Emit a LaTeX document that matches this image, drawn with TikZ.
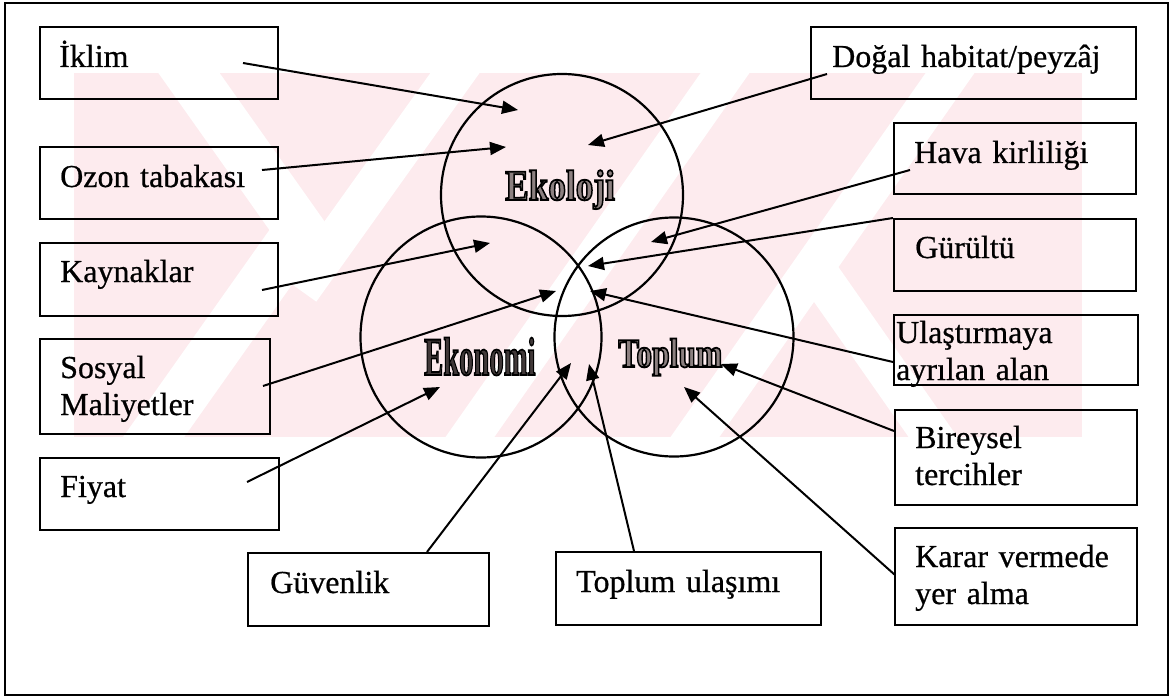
\documentclass[tikz,border=0pt]{standalone}
\usepackage{fontspec}
\setmainfont{Liberation Serif}
\newfontfamily\boxfont{Liberation Serif}[FakeBold=0.6]
\usetikzlibrary{arrows.meta}
\definecolor{wmpink}{RGB}{253,235,238}
% outlined text: #1 fill colour as "r g b", #2 text
\newcommand\outlinedtext[2]{\special{pdf:literal direct 2 Tr 1.8 w 0 0 0 RG #1 rg}#2\special{pdf:literal direct 0 Tr 0 0 0 RG 0 0 0 rg}}
\begin{document}
\begin{tikzpicture}[x=1pt,y=-1pt,
  box/.style={draw,line width=2pt,inner sep=0pt,anchor=north west},
  lbl/.style={anchor=base west,inner sep=0pt,text width=230pt,align=left,
    font=\boxfont\fontsize{32}{37}\selectfont},
  word/.style={anchor=base west,inner sep=0pt},
  ring/.style={draw,line width=2.2pt},
  arr/.style={line width=2pt,-{Triangle[length=16pt,width=13pt]}}]
\useasboundingbox (0,0) rectangle (1173,698);
\fill[white] (0,0) rectangle (1173,698);
% watermark
\begin{scope}
  \clip (74,73) rectangle (1082,437);
  \fill[wmpink] (74,73) rectangle (1082,437);
  \draw[white,line width=50pt,line join=miter,miter limit=10]
      (90,-67) -- (300,230) -- (90,527);
  \draw[white,line width=40pt] (300,290) -- (500,10);
  \foreach \x in {470,695}
    \draw[white,line width=40pt] ({\x-40},494) -- ({\x+295},16);
  \draw[white,line width=40pt] (814,267) -- (968,487);
\end{scope}
% outer frame
\draw[line width=2.5pt] (5,3) rectangle (1168,695);
% circles
\node[ring,circle,minimum size=242pt,inner sep=0pt] (ecol) at (562,195) {};
\node[ring,circle,minimum size=241pt,inner sep=0pt] (econ) at (481,337) {};
\node[ring,circle,minimum size=239pt,inner sep=0pt] (topl) at (674,337) {};
% boxes
\node[box,minimum width=238pt,minimum height=72pt] (iklim) at (39,26) {};
\node[box,minimum width=238pt,minimum height=72pt] (ozon) at (39,146) {};
\node[box,minimum width=238pt,minimum height=73pt] (kaynak) at (39,242) {};
\node[box,minimum width=230pt,minimum height=95pt] (sosyal) at (39,338) {};
\node[box,minimum width=239pt,minimum height=72pt] (fiyat) at (39,457) {};
\node[box,minimum width=241pt,minimum height=73pt] (guven) at (247,552) {};
\node[box,minimum width=265pt,minimum height=73pt] (tulas) at (555,551) {};
\node[box,minimum width=242pt,minimum height=97pt] (karar) at (894,527) {};
\node[box,minimum width=242pt,minimum height=95pt] (birey) at (894,409) {};
\node[box,minimum width=244pt,minimum height=70pt] (ulas) at (893,314) {};
\node[box,minimum width=242pt,minimum height=72pt] (gurul) at (893,218) {};
\node[box,minimum width=242pt,minimum height=71pt] (hava) at (893,122) {};
\node[box,minimum width=325pt,minimum height=72pt] (dogal) at (810,26) {};
% box texts
\node[lbl] (t-iklim) at ([shift={(20,41)}]iklim.north west) {İklim};
\node[lbl] (t-ozon) at ([shift={(21,41)}]ozon.north west) {Ozon tabakası};
\node[lbl] (t-kaynak) at ([shift={(21,40)}]kaynak.north west) {Kaynaklar};
\node[lbl] (t-sosyal) at ([shift={(21,40)}]sosyal.north west) {Sosyal\\Maliyetler};
\node[lbl] (t-fiyat) at ([shift={(21,40)}]fiyat.north west) {Fiyat};
\node[lbl] (t-guven) at ([shift={(23,41)}]guven.north west) {Güvenlik};
\node[lbl] (t-tulas) at ([shift={(21,41)}]tulas.north west) {Toplum ulaşımı};
\node[lbl] (t-karar) at ([shift={(21,40)}]karar.north west) {Karar vermede\\yer alma};
\node[lbl] (t-birey) at ([shift={(21,39)}]birey.north west) {Bireysel\\tercihler};
\node[lbl] (t-ulas) at ([shift={(3,29)}]ulas.north west) {Ulaştırmaya\\ayrılan alan};
\node[lbl] (t-gurul) at ([shift={(22,40)}]gurul.north west) {Gürültü};
\node[lbl] (t-hava) at ([shift={(21,41)}]hava.north west) {Hava kirliliği};
\node[lbl,text width=310pt] (t-dogal) at ([shift={(22,41)}]dogal.north west) {Doğal habitat/peyzâj};
% circle labels
\node[word] (w-ecol) at (505,200)
  {\scalebox{0.82}[1]{\fontsize{43}{43}\selectfont\bfseries\outlinedtext{0.55 0.5 0.5}{Ekoloji}}};
\node[word] (w-econ) at (424,375)
  {\scalebox{0.53}[1]{\fontsize{54}{54}\selectfont\bfseries\outlinedtext{0.25 0.22 0.22}{Ekonomi}}};
\node[word] (w-topl) at (618,367)
  {\scalebox{0.77}[1]{\fontsize{41}{41}\selectfont\bfseries\outlinedtext{0.55 0.5 0.5}{Toplum}}};
% arrow ends
\coordinate (s1) at (243,63);  \coordinate (e1) at (518,110);
\coordinate (s2) at (262,170); \coordinate (e2) at (506,147);
\coordinate (s3) at (262,290); \coordinate (e3) at (490,243);
\coordinate (s4) at (263,386); \coordinate (e4) at (556,291);
\coordinate (s5) at (247,482); \coordinate (e5) at (440,387);
\coordinate (s6) at (427,552); \coordinate (e6) at (571,363);
\coordinate (s7) at (634,551); \coordinate (e7) at (589,364);
\coordinate (s8) at (827,74);  \coordinate (e8) at (588,145);
\coordinate (s9) at (910,170); \coordinate (e9) at (651,242);
\coordinate (s10) at (893,218); \coordinate (e10) at (588,266);
\coordinate (s11) at (893,362); \coordinate (e11) at (590,291);
\coordinate (s12) at (894,431); \coordinate (e12) at (721,364);
\coordinate (s13) at (895,575); \coordinate (e13) at (684,387);
\foreach \i in {1,...,13} \draw[arr] (s\i) -- (e\i);
\end{tikzpicture}
\end{document}
